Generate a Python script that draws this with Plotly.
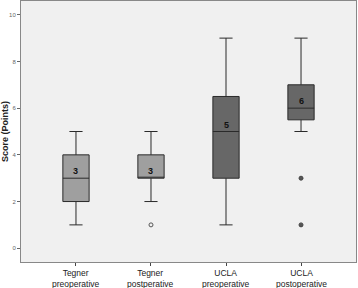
import plotly.graph_objects as go

categories = ["Tegner preoperative", "Tegner postperative", "UCLA preoperative", "UCLA postoperative"]
category_labels = ["Tegner<br>preoperative", "Tegner<br>postperative", "UCLA<br>preoperative", "UCLA<br>postoperative"]
lower_whisker = [1, 2, 1, 5]
q1_values = [2, 3, 3, 5.5]
medians = [3, 3, 5, 6]
q3_values = [4, 4, 6.5, 7]
upper_whisker = [5, 5, 9, 9]
outlier_cat = [categories[1], categories[3], categories[3]]
outlier_vals = [1, 3, 1]
outlier_filled = [False, True, True]
median_labels = ["3", "3", "5", "6"]
y_ticks = [0, 2, 4, 6, 8, 10]

fills = ["#9f9f9f", "#9f9f9f", "#676767", "#676767"]

fig = go.Figure()
for i, c in enumerate(categories):
    fig.add_trace(go.Box(
        x=[c], q1=[q1_values[i]], median=[medians[i]], q3=[q3_values[i]],
        lowerfence=[lower_whisker[i]], upperfence=[upper_whisker[i]],
        fillcolor=fills[i], line=dict(color="#2a2a2a", width=1),
        whiskerwidth=0.5, width=0.35, boxpoints=False, showlegend=False,
        hoverinfo="skip",
    ))
    fig.add_annotation(x=c, y=medians[i], text="<b>" + median_labels[i] + "</b>",
                       showarrow=False, yshift=7, font=dict(size=9, color="#111",
                       family="Liberation Sans, Arial"))
    fig.add_annotation(x=c, xref="x", y=0, yref="paper", yanchor="top", yshift=-4,
                       text=category_labels[i], showarrow=False,
                       font=dict(size=8.5, color="#222", family="Liberation Sans, Arial"))

fig.add_trace(go.Scatter(
    x=outlier_cat, y=outlier_vals, mode="markers", showlegend=False, hoverinfo="skip",
    marker=dict(size=4, symbol=["circle-open" if not f else "circle" for f in outlier_filled],
                color="#555", line=dict(color="#444", width=1)),
))

fig.update_layout(
    width=358, height=288,
    margin=dict(l=21, r=2, t=1, b=26),
    paper_bgcolor="white", plot_bgcolor="#f0f0f0",
    font=dict(family="Liberation Sans, Arial", color="#222"),
    xaxis=dict(type="category", range=[-0.733, 3.733], showline=True, linecolor="#888",
               mirror=True, ticks="outside", ticklen=3, tickcolor="#444",
               showticklabels=False, automargin=False,
               showgrid=False, zeroline=False),
    yaxis=dict(range=[-0.59, 10.59], tickvals=y_ticks, showline=True, linecolor="#888",
               mirror=True, ticks="outside", ticklen=3, tickcolor="#666", automargin=False,
               tickfont=dict(size=6, color="#666"), showgrid=False, zeroline=False,
               title=dict(text="<b>Score (Points)</b>", font=dict(size=9, color="#222"),
                          standoff=4)),
)

fig.write_html("out.html", config={"displayModeBar": False},
               post_script="document.body.style.margin='0';document.body.style.overflow='hidden';")
